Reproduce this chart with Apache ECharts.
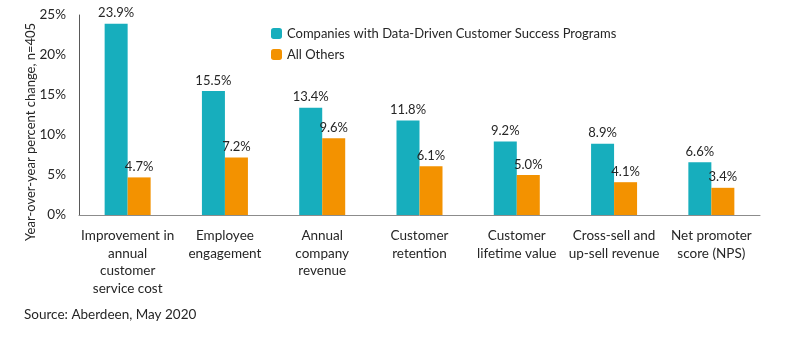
<!DOCTYPE html>
<html>
<head>
<meta charset="utf-8">
<script src="https://cdn.jsdelivr.net/npm/echarts@6/dist/echarts.min.js"></script>
<style>
  html, body { margin: 0; padding: 0; background: #fff; }
  #chart { width: 800px; height: 345px; }
</style>
</head>
<body>
<div id="chart"></div>
<script>
// Outcome categories (line breaks as shown under the axis)
const categories = [
  'Improvement in\nannual\ncustomer\nservice cost',
  'Employee\nengagement',
  'Annual\ncompany\nrevenue',
  'Customer\nretention',
  'Customer\nlifetime value',
  'Cross-sell and\nup-sell revenue',
  'Net promoter\nscore (NPS)'
];
const dataDriven = [23.9, 15.5, 13.4, 11.8, 9.2, 8.9, 6.6];
const allOthers = [4.7, 7.2, 9.6, 6.1, 5.0, 4.1, 3.4];
const seriesNames = ['Companies with Data-Driven Customer Success Programs', 'All Others'];
const yTicks = { min: 0, max: 25, interval: 5 };
const yTitle = 'Year-over-year percent change, n=405';

const FONT = 'Lato, "Open Sans", sans-serif';
const TEXT = '#262626';

const chart = echarts.init(document.getElementById('chart'), null, { renderer: 'canvas' });

const labelStyle = {
  show: true,
  position: 'top',
  distance: 4,
  formatter: p => p.value.toFixed(1) + '%',
  color: TEXT,
  fontFamily: FONT,
  fontSize: 13
};

chart.setOption({
  animation: false,
  textStyle: { fontFamily: FONT },
  grid: { left: 79, right: 40, top: 15, bottom: 130, containLabel: false },
  legend: {
    orient: 'vertical',
    left: 266,
    top: 22,
    itemWidth: 11,
    itemHeight: 11,
    itemGap: 8,
    textStyle: { color: TEXT, fontFamily: FONT, fontSize: 13 },
    data: seriesNames
  },
  xAxis: {
    type: 'category',
    data: categories,
    axisLine: { lineStyle: { color: '#8c8c8c', width: 1 } },
    axisTick: { show: false },
    axisLabel: {
      interval: 0,
      color: TEXT,
      fontFamily: FONT,
      fontSize: 13.5,
      lineHeight: 17.5,
      margin: 12
    }
  },
  yAxis: {
    type: 'value',
    min: yTicks.min,
    max: yTicks.max,
    interval: yTicks.interval,
    axisLine: { show: true, lineStyle: { color: '#595959', width: 1 } },
    axisTick: { show: false },
    splitLine: { show: false },
    axisLabel: {
      color: TEXT,
      fontFamily: FONT,
      fontSize: 13.5,
      margin: 13,
      formatter: v => v + '%'
    }
  },
  series: [
    {
      name: seriesNames[0],
      type: 'bar',
      data: dataDriven,
      barWidth: 23,
      barGap: '0%',
      itemStyle: { color: '#17aebd' },
      label: labelStyle
    },
    {
      name: seriesNames[1],
      type: 'bar',
      data: allOthers,
      barWidth: 23,
      itemStyle: { color: '#f39200' },
      label: labelStyle
    }
  ],
  graphic: [
    {
      // vertical axis title, rotated to read bottom-to-top
      type: 'text',
      x: 31,
      y: 132,
      rotation: Math.PI / 2,
      style: {
        text: yTitle,
        fill: TEXT,
        font: '13px ' + FONT,
        textAlign: 'center',
        textVerticalAlign: 'middle'
      }
    },
    {
      type: 'text',
      left: 24,
      top: 308,
      style: { text: 'Source: Aberdeen, May 2020', fill: TEXT, font: '13.5px ' + FONT }
    }
  ]
});
</script>
</body>
</html>
